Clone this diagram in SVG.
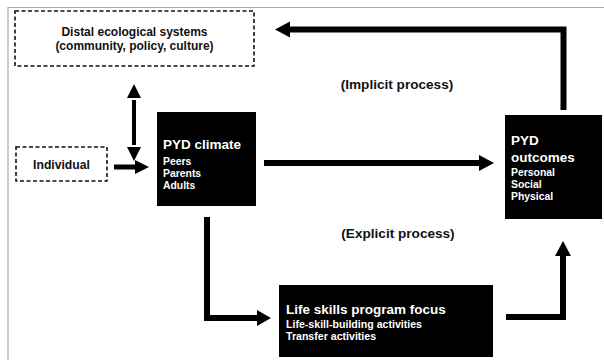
<svg xmlns="http://www.w3.org/2000/svg" width="604" height="360" viewBox="0 0 604 360">
<style>
.dash{fill:#fff;stroke:#111;stroke-width:1.6;stroke-dasharray:4 2.5}
.blk{fill:#000}
.t{font-family:"Liberation Sans",Arial,sans-serif;font-weight:bold;fill:#111}
.w{font-family:"Liberation Sans",Arial,sans-serif;font-weight:bold;fill:#fff}
.ln{fill:none;stroke:#000;stroke-width:6}
</style>
<rect x="0" y="0" width="604" height="360" fill="#fff"/>
<path d="M8,360 V7.5 H604" fill="none" stroke="#aaa" stroke-width="1.2"/>
<g id="distal">
<rect class="dash" x="15" y="11" width="239" height="55"/>
<text class="t" x="134.5" y="36" font-size="12" text-anchor="middle">Distal ecological systems</text>
<text class="t" x="134.5" y="50" font-size="12" text-anchor="middle">(community, policy, culture)</text>
</g>
<g id="individual">
<rect class="dash" x="16" y="147" width="91" height="34"/>
<text class="t" x="61.5" y="168.5" font-size="12.2" text-anchor="middle">Individual</text>
</g>
<g id="climate">
<rect class="blk" x="157" y="112" width="99" height="94"/>
<text class="w" x="163" y="149" font-size="13.5">PYD climate</text>
<text class="w" x="163" y="164.5" font-size="10.4">Peers</text>
<text class="w" x="163" y="176.5" font-size="10.4">Parents</text>
<text class="w" x="163" y="188.5" font-size="10.4">Adults</text>
</g>
<g id="outcomes">
<rect class="blk" x="505" y="115" width="97" height="104"/>
<text class="w" x="511" y="145" font-size="13.5">PYD</text>
<text class="w" x="511" y="161.5" font-size="13.5">outcomes</text>
<text class="w" x="511" y="176" font-size="10.4">Personal</text>
<text class="w" x="511" y="188" font-size="10.4">Social</text>
<text class="w" x="511" y="200" font-size="10.4">Physical</text>
</g>
<g id="lifeskills">
<rect class="blk" x="279" y="285" width="214" height="72"/>
<text class="w" x="286" y="313.5" font-size="13.5">Life skills program focus</text>
<text class="w" x="286" y="327.5" font-size="10.6">Life-skill-building activities</text>
<text class="w" x="286" y="340" font-size="10.6">Transfer activities</text>
</g>
<g id="implicit-label"><text class="t" x="397" y="89" font-size="13.6" text-anchor="middle">(Implicit process)</text></g>
<g id="explicit-label"><text class="t" x="398" y="238" font-size="13.6" text-anchor="middle">(Explicit process)</text></g>
<g id="connectors">
<line x1="134" y1="100" x2="134" y2="145" stroke="#000" stroke-width="4"/>
<path d="M134,84 L141,98 L127,98 Z" fill="#000"/>
<path d="M134,161 L141,147 L127,147 Z" fill="#000"/>
<line x1="114" y1="167" x2="136" y2="167" stroke="#000" stroke-width="5"/>
<path d="M149,167 L135,160 L135,174 Z" fill="#000"/>
<line x1="264" y1="163" x2="480" y2="163" stroke="#000" stroke-width="6"/>
<path d="M494,163 L479,155 L479,171 Z" fill="#000"/>
<path class="ln" d="M563.5,110 V29.5 H288" stroke-width="7"/>
<path d="M275,29.5 L290,21.5 L290,37.5 Z" fill="#000"/>
<path class="ln" d="M207,217 V318 H258"/>
<path d="M271,318 L257,310 L257,326 Z" fill="#000"/>
<path class="ln" d="M506,317 H563 V255"/>
<path d="M563,241 L555,256 L571,256 Z" fill="#000"/>
</g>
</svg>
